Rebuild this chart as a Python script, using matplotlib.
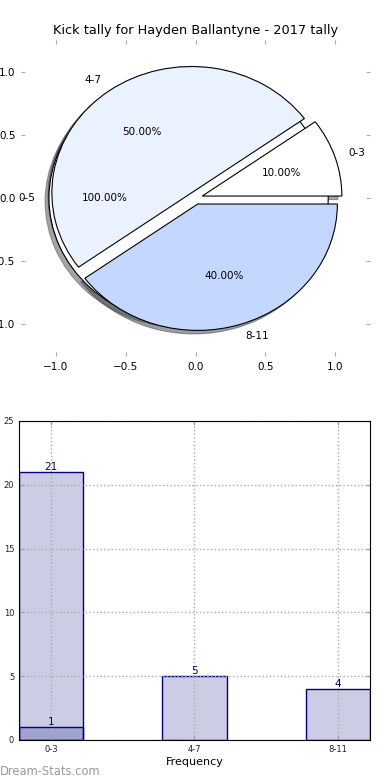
import matplotlib
matplotlib.use('Agg')
import matplotlib.pyplot as plt

# pie data
pie_labels = ['0-3', '4-7', '8-11']
pie_values = [1, 5, 4]
pie_colors = ['#ffffff', '#eaf1ff', '#c4d8ff']
pie_explode = [0.05, 0.05, 0.05]
total_label = ['0-5']
total_value = [1]

# bar data
bar_labels = ['0-3', '4-7', '8-11']
bar_values = [1, 5, 4]
extra_values = [21]
ylab = 'Kick Distance'

fig = plt.figure(figsize=(3.9, 7.8), dpi=100)

# pie
ax1 = fig.add_axes([0.054, 0.5436, 0.895, 0.4051])
ax1.pie(total_value, labels=total_label, autopct='%1.2f%%', shadow=True,
        colors=['#ffffff'], explode=[0.05],
        wedgeprops={'linewidth': 0.8, 'edgecolor': 'black'},
        textprops={'fontsize': 7.5})
ax1.pie(pie_values, labels=pie_labels, colors=pie_colors, explode=pie_explode,
        autopct='%1.2f%%', shadow=True,
        wedgeprops={'linewidth': 0.8, 'edgecolor': 'black'},
        textprops={'fontsize': 7.5})
ax1.set_aspect('auto')
ax1.set_xlim(-1.25, 1.25)
ax1.set_ylim(-1.25, 1.25)
ax1.set_frame_on(False)
ticks = [-1.0, -0.5, 0.0, 0.5, 1.0]
ax1.set_xticks(ticks)
ax1.set_yticks(ticks)
ax1.set_xticklabels(['\u22121.0', '\u22120.5', '0.0', '0.5', '1.0'])
ax1.set_yticklabels(['\u22121.0', '\u22120.5', '0.0', '0.5', '1.0'])
ax1.tick_params(direction='in', length=3, color='#aaaaaa', labelsize=7.5,
                top=True, right=True, pad=4)
ax1.set_title('Kick tally for Hayden Ballantyne - 2017 tally', fontsize=9.3, pad=4)

# bar
ax2 = fig.add_axes([0.0487, 0.0513, 0.9, 0.409])
x = list(range(len(bar_labels)))
ax2.bar(x, bar_values, width=0.45, color='navy', alpha=0.2)
ax2.bar(x, bar_values, width=0.45, fill=False, edgecolor='navy', linewidth=1)
ax2.bar(x[:1], extra_values, width=0.45, color='navy', alpha=0.2)
ax2.bar(x[:1], extra_values, width=0.45, fill=False, edgecolor='navy', linewidth=1)
for i, v in enumerate(bar_values):
    ax2.text(x[i], v, str(v), ha='center', va='bottom', color='navy', fontsize=7.5)
for i, v in enumerate(extra_values):
    ax2.text(x[i], v, str(v), ha='center', va='bottom', color='navy', fontsize=7.5)
ax2.set_xlim(-0.225, 2.225)
ax2.set_ylim(0, 25)
ax2.set_xticks(x)
ax2.set_xticklabels(bar_labels)
ax2.set_yticks([0, 5, 10, 15, 20, 25])
ax2.tick_params(direction='in', length=3, color='#999999', labelsize=6,
                top=True, right=True, labelcolor='#222222')
ax2.grid(True, linestyle=':', color='#aaaaaa', linewidth=1)
ax2.set_axisbelow('line')
ax2.set_xlabel('Frequency', fontsize=8, labelpad=2)
ax2.set_ylabel(ylab, fontsize=7, labelpad=2)

fig.text(0.0, 0.006, 'Dream-Stats.com', color='#999999', fontsize=8.3)

fig.savefig('out.png', dpi=100)
